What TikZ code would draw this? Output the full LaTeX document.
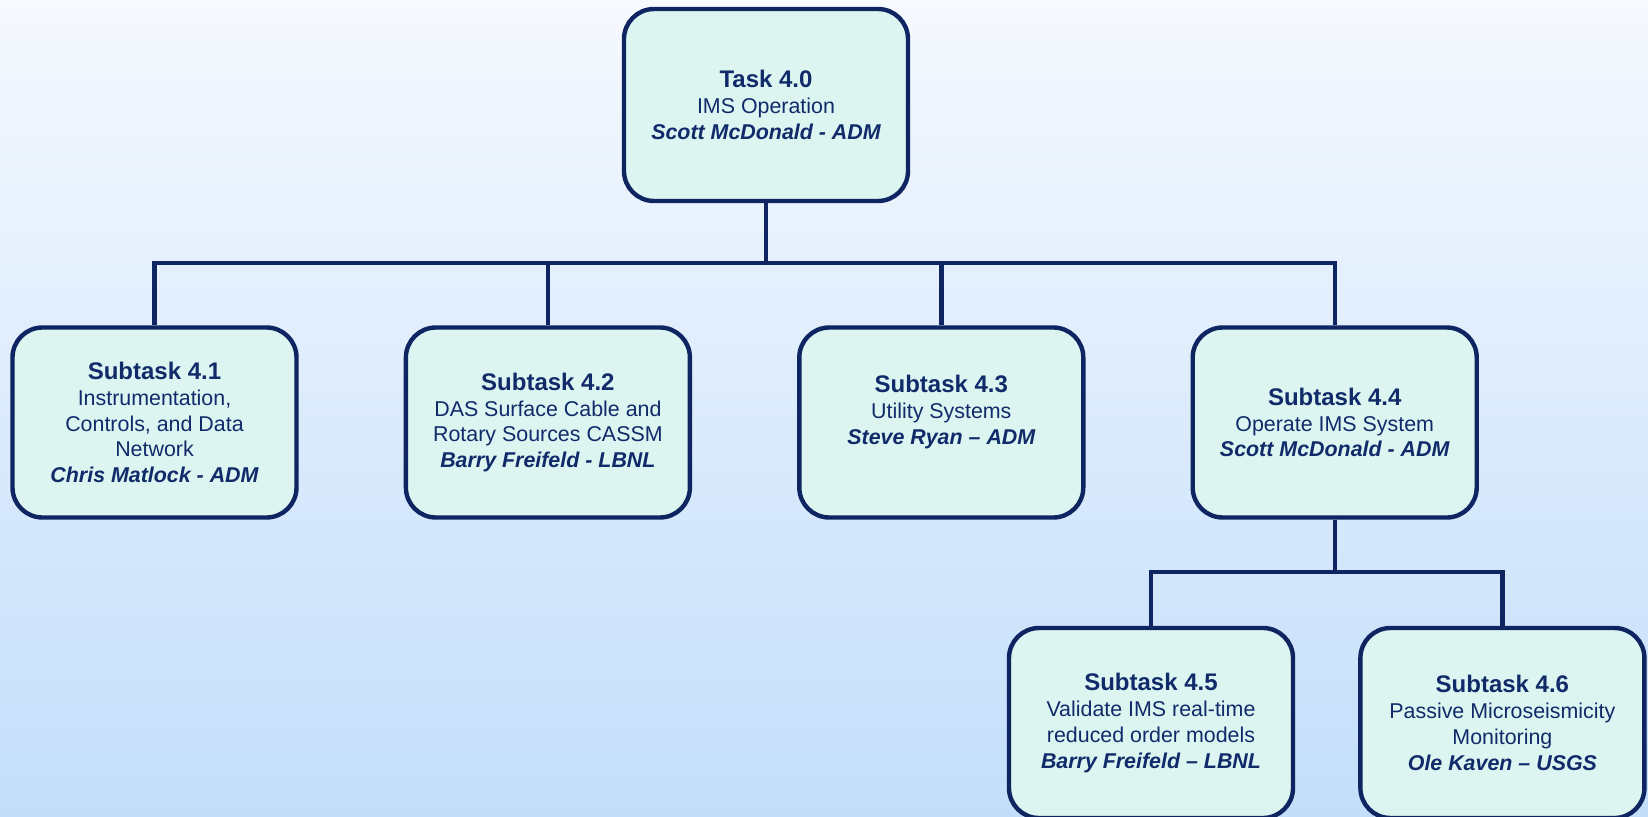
\documentclass[tikz,border=0pt]{standalone}
\usepackage{fontspec}
\setmainfont{Liberation Sans}
\usepackage{tikz}
\usetikzlibrary{positioning,shadings}
\definecolor{orgnavy}{HTML}{0E2561}
\definecolor{orgtext}{HTML}{102A6A}
\definecolor{orgmint}{HTML}{DDF5F1}
\definecolor{orgpale}{HTML}{F6F9FE}
\definecolor{orgsky}{HTML}{C3DEFA}
\newcommand{\hd}[1]{{\fontsize{12}{14}\selectfont\bfseries #1}}
\newcommand{\who}[1]{{\bfseries\itshape #1}}

\begin{document}
\begin{tikzpicture}[x=0.5pt,y=0.5pt,node distance=52.5pt,
  box/.style={draw=orgnavy,line width=2.2pt,rounded corners=15pt,fill=orgmint,
    minimum width=142pt,minimum height=95pt,align=center,text=orgtext,
    font=\fontsize{10.7}{12.9}\selectfont},
  link/.style={draw=orgnavy,line width=2.2pt}]
\shade[top color=orgpale,bottom color=orgsky] (0,0) rectangle (1648,816);
\useasboundingbox (0,0) rectangle (1648,816);
\node[box,minimum height=96pt](t0) at (766,711){\hd{Task 4.0}\\IMS Operation\\\who{Scott McDonald - ADM}};
\node[box](s1) at (154.5,393.5){\hd{Subtask 4.1}\\Instrumentation,\\Controls, and Data\\Network\\\who{Chris Matlock - ADM}};
\node[box,right=of s1](s2){\hd{Subtask 4.2}\\DAS Surface Cable and\\Rotary Sources CASSM\\\who{Barry Freifeld - LBNL}};
\node[box,right=of s2](s3){\hd{Subtask 4.3}\\Utility Systems\\\who{Steve Ryan – ADM}\\\mbox{}};
\node[box,right=of s3](s4){\hd{Subtask 4.4}\\Operate IMS System\\\who{Scott McDonald - ADM}};
\node[box](s5) at (1151,93){\hd{Subtask 4.5}\\Validate IMS real-time\\reduced order models\\\who{Barry Freifeld – LBNL}};
\node[box,right=31.5pt of s5](s6){\hd{Subtask 4.6}\\Passive Microseismicity\\Monitoring\\\who{Ole Kaven – USGS}};
\coordinate (bus1) at (0,553);
\coordinate (bus2) at (0,244);
\foreach \n in {s1,s2,s3,s4}
  \draw[link] (t0.south) -- (t0.south |- bus1) -| (\n.north);
\foreach \n in {s5,s6}
  \draw[link] (s4.south) -- (s4.south |- bus2) -| (\n.north);
\end{tikzpicture}
\end{document}
